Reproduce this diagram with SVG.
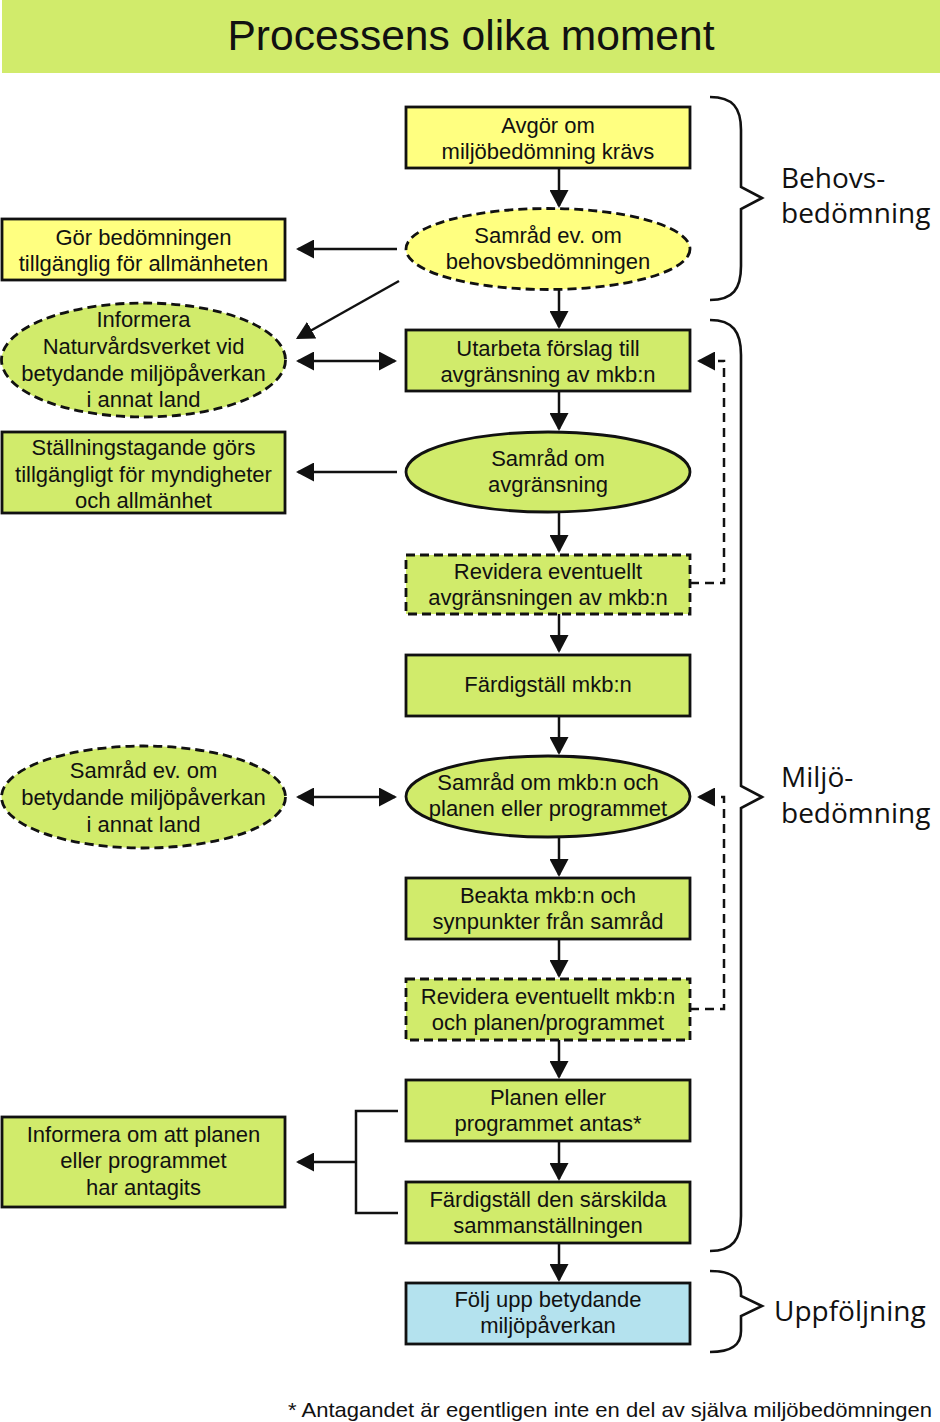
<svg xmlns="http://www.w3.org/2000/svg" width="940" height="1422" viewBox="0 0 940 1422">
<style>
.y{fill:#FFFF80}.g{fill:#D1EB6B}.b{fill:#B4E2EE}
.box{stroke:#111;stroke-width:2.8}
.dash{stroke-dasharray:9 5}
.t{font-family:"Liberation Sans",Arial,sans-serif;font-size:22px;text-anchor:middle;fill:#111}
.lbl{font-family:"Open Sans","Noto Sans",sans-serif;font-size:28px;fill:#111}
.ttl{font-family:"Liberation Sans",Arial,sans-serif;font-size:43px;text-anchor:middle;fill:#111}
.ln{stroke:#111;stroke-width:2.5;fill:none}
.dl{stroke:#111;stroke-width:2.5;fill:none;stroke-dasharray:9 6}
.br{stroke:#111;stroke-width:2.6;fill:none}
</style>
<defs>
<marker id="ah" viewBox="0 0 18 19" refX="16" refY="9.5" markerWidth="18" markerHeight="19" markerUnits="userSpaceOnUse" orient="auto-start-reverse"><path d="M0,0 L18,9.5 L0,19 z" fill="#111"/></marker>
</defs>
<rect width="940" height="1422" fill="#fff"/>
<g id="title">
<rect x="2" y="0" width="938" height="73" class="g"/>
<text x="471" y="50" class="ttl" textLength="487" lengthAdjust="spacingAndGlyphs">Processens olika moment</text>
</g>

<g id="n1"><rect x="406" y="107" width="284" height="61" class="y box"/>
<text class="t" x="548" y="133">Avgör om</text><text class="t" x="548" y="159">miljöbedömning krävs</text></g>
<g id="n2"><ellipse cx="548" cy="249" rx="142" ry="40.5" class="y box dash"/>
<text class="t" x="548" y="243">Samråd ev. om</text><text class="t" x="548" y="269">behovsbedömningen</text></g>
<g id="n3"><rect x="406" y="330" width="284" height="61" class="g box"/>
<text class="t" x="548" y="356">Utarbeta förslag till</text><text class="t" x="548" y="382">avgränsning av mkb:n</text></g>
<g id="n4"><ellipse cx="548" cy="472" rx="142" ry="40" class="g box"/>
<text class="t" x="548" y="466">Samråd om</text><text class="t" x="548" y="492">avgränsning</text></g>
<g id="n5"><rect x="406" y="555" width="284" height="59" class="g box dash"/>
<text class="t" x="548" y="579">Revidera eventuellt</text><text class="t" x="548" y="605">avgränsningen av mkb:n</text></g>
<g id="n6"><rect x="406" y="655" width="284" height="61" class="g box"/>
<text class="t" x="548" y="692">Färdigställ mkb:n</text></g>
<g id="n7"><ellipse cx="548" cy="796.5" rx="142" ry="40.5" class="g box"/>
<text class="t" x="548" y="790">Samråd om mkb:n och</text><text class="t" x="548" y="816">planen eller programmet</text></g>
<g id="n8"><rect x="406" y="878" width="284" height="61" class="g box"/>
<text class="t" x="548" y="903">Beakta mkb:n och</text><text class="t" x="548" y="929">synpunkter från samråd</text></g>
<g id="n9"><rect x="406" y="979" width="284" height="61" class="g box dash"/>
<text class="t" x="548" y="1004">Revidera eventuellt mkb:n</text><text class="t" x="548" y="1030">och planen/programmet</text></g>
<g id="n10"><rect x="406" y="1080" width="284" height="61" class="g box"/>
<text class="t" x="548" y="1105">Planen eller</text><text class="t" x="548" y="1131">programmet antas*</text></g>
<g id="n11"><rect x="406" y="1182" width="284" height="61" class="g box"/>
<text class="t" x="548" y="1207">Färdigställ den särskilda</text><text class="t" x="548" y="1233">sammanställningen</text></g>
<g id="n12"><rect x="406" y="1283" width="284" height="61" class="b box"/>
<text class="t" x="548" y="1307">Följ upp betydande</text><text class="t" x="548" y="1333">miljöpåverkan</text></g>

<g id="l1"><rect x="2" y="219" width="283" height="61" class="y box"/>
<text class="t" x="143.5" y="245">Gör bedömningen</text><text class="t" x="143.5" y="271">tillgänglig för allmänheten</text></g>
<g id="l2"><ellipse cx="143.5" cy="360" rx="142" ry="57" class="g box dash"/>
<text class="t" x="143.5" y="327">Informera</text><text class="t" x="143.5" y="354">Naturvårdsverket vid</text><text class="t" x="143.5" y="381">betydande miljöpåverkan</text><text class="t" x="143.5" y="407">i annat land</text></g>
<g id="l3"><rect x="2" y="432" width="283" height="81" class="g box"/>
<text class="t" x="143.5" y="455">Ställningstagande görs</text><text class="t" x="143.5" y="482">tillgängligt för myndigheter</text><text class="t" x="143.5" y="508">och allmänhet</text></g>
<g id="l4"><ellipse cx="143.5" cy="797" rx="142" ry="51" class="g box dash"/>
<text class="t" x="143.5" y="778">Samråd ev. om</text><text class="t" x="143.5" y="805">betydande miljöpåverkan</text><text class="t" x="143.5" y="832">i annat land</text></g>
<g id="l5"><rect x="2" y="1117" width="283" height="90" class="g box"/>
<text class="t" x="143.5" y="1142">Informera om att planen</text><text class="t" x="143.5" y="1168">eller programmet</text><text class="t" x="143.5" y="1195">har antagits</text></g>

<g id="connectors">
<line class="ln" x1="559" y1="168" x2="559" y2="206" marker-end="url(#ah)"/>
<line class="ln" x1="559" y1="290" x2="559" y2="327" marker-end="url(#ah)"/>
<line class="ln" x1="559" y1="391" x2="559" y2="429" marker-end="url(#ah)"/>
<line class="ln" x1="559" y1="512" x2="559" y2="551" marker-end="url(#ah)"/>
<line class="ln" x1="559" y1="614" x2="559" y2="651" marker-end="url(#ah)"/>
<line class="ln" x1="559" y1="716" x2="559" y2="753" marker-end="url(#ah)"/>
<line class="ln" x1="559" y1="837" x2="559" y2="875" marker-end="url(#ah)"/>
<line class="ln" x1="559" y1="939" x2="559" y2="976" marker-end="url(#ah)"/>
<line class="ln" x1="559" y1="1040" x2="559" y2="1077" marker-end="url(#ah)"/>
<line class="ln" x1="559" y1="1141" x2="559" y2="1179" marker-end="url(#ah)"/>
<line class="ln" x1="559" y1="1243" x2="559" y2="1280" marker-end="url(#ah)"/>
<line class="ln" x1="397" y1="249" x2="298" y2="249" marker-end="url(#ah)"/>
<line class="ln" x1="399" y1="281" x2="297.7" y2="338" marker-end="url(#ah)"/>
<line class="ln" x1="298" y1="361" x2="395" y2="361" marker-start="url(#ah)" marker-end="url(#ah)"/>
<line class="ln" x1="397" y1="472" x2="298" y2="472" marker-end="url(#ah)"/>
<line class="ln" x1="298" y1="797" x2="395" y2="797" marker-start="url(#ah)" marker-end="url(#ah)"/>
<path class="ln" d="M398,1111 H356 V1213 H398"/>
<line class="ln" x1="356" y1="1162" x2="298" y2="1162" marker-end="url(#ah)"/>
<path class="dl" d="M690,583 H724 V361 H718"/>
<line class="ln" x1="715" y1="361" x2="699" y2="361" marker-end="url(#ah)"/>
<path class="dl" d="M690,1009 H724 V797 H718"/>
<line class="ln" x1="715" y1="797" x2="699" y2="797" marker-end="url(#ah)"/>
</g>

<g id="braces">
<path class="br" d="M710,97 C733,97 741,108 741,130 L741,187 L762,198 L741,209 L741,266 C741,289 733,300 710,300"/>
<path class="br" d="M710,320 C733,320 741,332 741,355 L741,786 L762,797 L741,808 L741,1216 C741,1239 733,1251 710,1251"/>
<path class="br" d="M710,1271 C733,1271 741,1279 741,1292 L741,1296 L762,1306 L741,1316 L741,1331 C741,1344 733,1352 710,1352"/>
<text class="lbl" x="781" y="188">Behovs-</text>
<text class="lbl" x="781" y="223">bedömning</text>
<text class="lbl" x="781" y="787">Miljö-</text>
<text class="lbl" x="781" y="823">bedömning</text>
<text class="lbl" x="774" y="1321">Uppföljning</text>
</g>
<text x="288" y="1417" font-family="Liberation Sans, Arial, sans-serif" font-size="21" fill="#111" textLength="644" lengthAdjust="spacingAndGlyphs">* Antagandet är egentligen inte en del av själva miljöbedömningen</text>
</svg>
